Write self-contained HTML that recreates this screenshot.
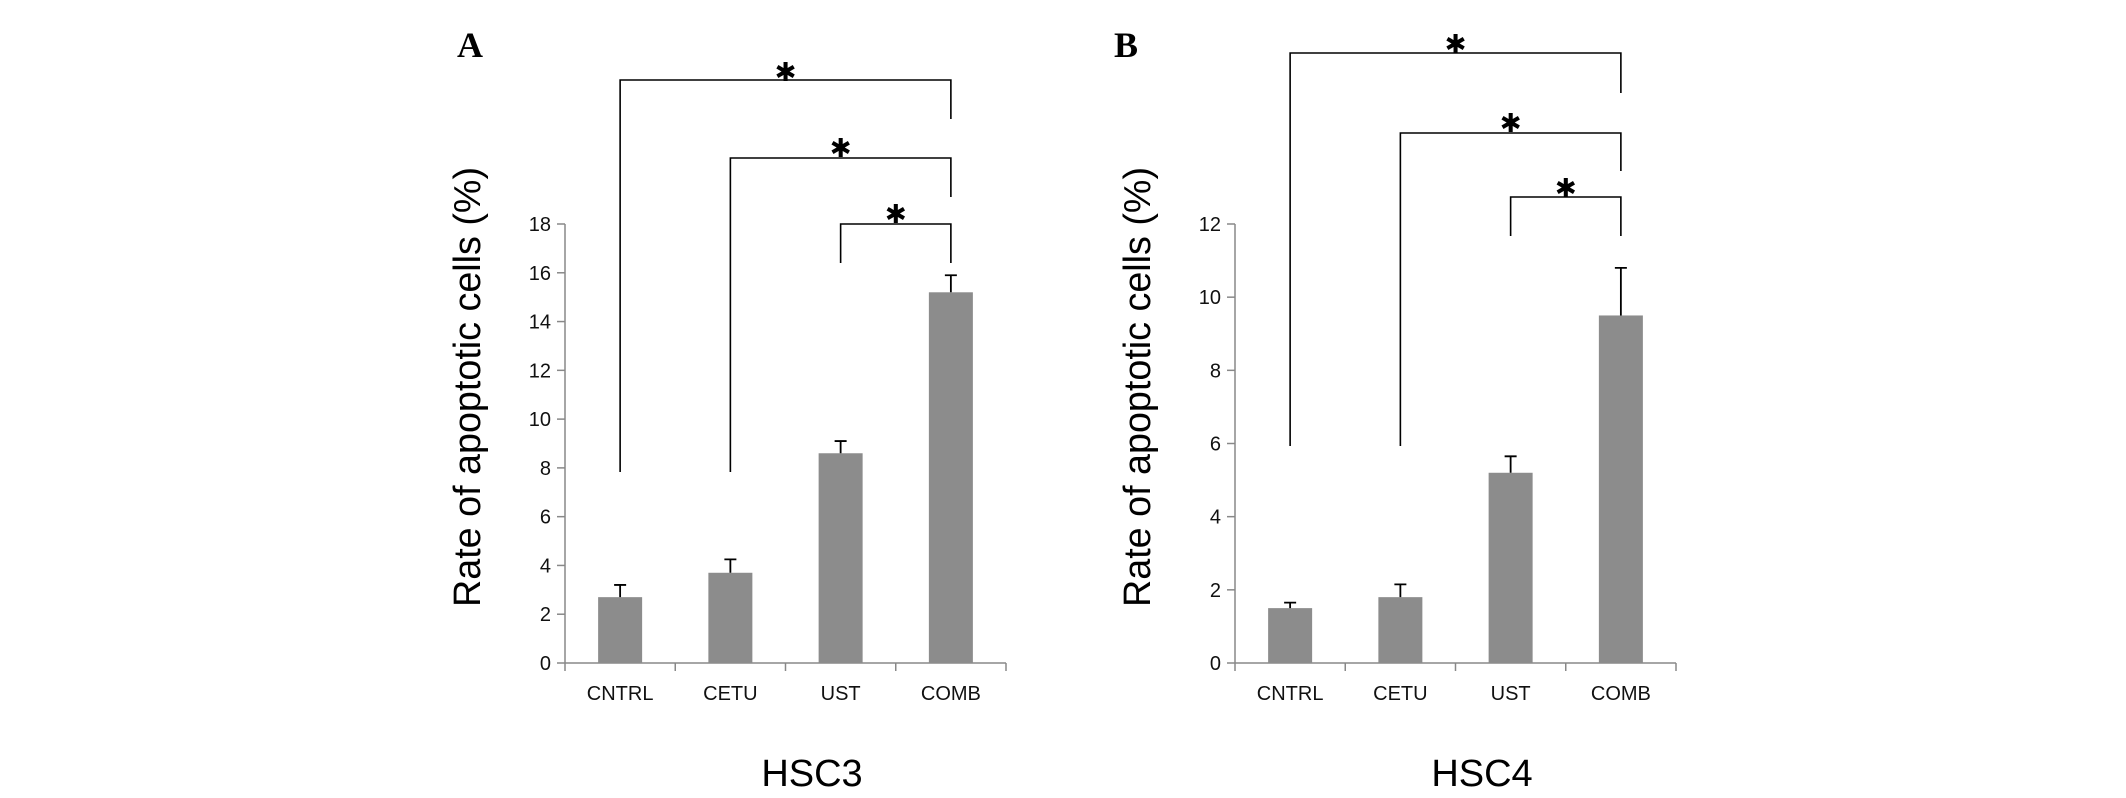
<!DOCTYPE html>
<html><head><meta charset="utf-8"><style>
html,body{margin:0;padding:0;background:#fff;}
svg{display:block;font-family:"Liberation Sans",sans-serif;}
</style></head><body>
<svg id="fig" width="2126" height="798" viewBox="0 0 2126 798"></svg>
<script>
const categories = ["CNTRL","CETU","UST","COMB"];
const hsc3Values = [2.7, 3.7, 8.6, 15.2];
const hsc3Errors = [0.5, 0.55, 0.5, 0.7];
const hsc3Ticks = [0,2,4,6,8,10,12,14,16,18];
const hsc4Values = [1.5, 1.8, 5.2, 9.5];
const hsc4Errors = [0.15, 0.35, 0.45, 1.3];
const hsc4Ticks = [0,2,4,6,8,10,12];

const NS="http://www.w3.org/2000/svg";
const svg=document.getElementById('fig');
function mk(tag,attrs,parent){const e=document.createElementNS(NS,tag);for(const k in attrs)e.setAttribute(k,attrs[k]);(parent||svg).appendChild(e);return e;}

function panel(ox, letter, title, values, errors, ticks, br){
  const g=mk('g',{transform:`translate(${ox},0)`});
  
  
  const x0=565,x1=1006,y0=663,yTop=224,ymax=ticks[ticks.length-1];
  const yS=v=>y0-(v/ymax)*(y0-yTop);
  const bw=(x1-x0)/categories.length;
  const xC=i=>x0+bw*(i+0.5);
  const yAxis=mk('line',{x1:x0,y1:yTop,x2:x0,y2:y0,stroke:'#888','stroke-width':1.5},g);
  
  
  const xAxis=mk('line',{x1:x0,y1:y0,x2:x1,y2:y0,stroke:'#888','stroke-width':1.5},g);
  
  
  ticks.forEach(t=>{
    mk('line',{x1:x0-8,y1:yS(t),x2:x0,y2:yS(t),stroke:'#888','stroke-width':1.5},g);
    const tx=mk('text',{x:x0-14,y:yS(t)+7,'text-anchor':'end','font-size':20,fill:'#111'},g);
    tx.textContent=t;
    
    
  });
  for(let i=0;i<=categories.length;i++) mk('line',{x1:x0+bw*i,y1:y0,x2:x0+bw*i,y2:y0+8,stroke:'#888','stroke-width':1.5},g);
  categories.forEach((c,i)=>{
    const cx=xC(i);
    const b=mk('rect',{x:cx-22,y:yS(values[i]),width:44,height:y0-yS(values[i]),fill:'#8c8c8c'},g);
    
    
    const ye=yS(values[i]+errors[i]);
    const e=mk('path',{d:`M${cx} ${yS(values[i])}V${ye}M${cx-6} ${ye}H${cx+6}`,stroke:'#000','stroke-width':1.8,fill:'none'},g);
    
    
    const t=mk('text',{x:cx,y:700,'text-anchor':'middle','font-size':20,fill:'#111'},g);
    t.textContent=c;
    
    
  });
  br.forEach(b=>{
    const xl=xC(b[0]),xr=xC(3);
    const p=mk('path',{d:`M${xl} ${b[2]}V${b[1]}H${xr}V${b[3]}`,stroke:'#000','stroke-width':1.6,fill:'none'},g);
    
    
    const s=mk('text',{x:(xl+xr)/2,y:b[4]+10,'text-anchor':'middle','font-size':26,'font-family':'DejaVu Sans, sans-serif',fill:'#000'},g);
    s.textContent='✱';
    
    
  });
  const yl=mk('text',{transform:`translate(480,387) rotate(-90)`,'text-anchor':'middle','font-size':38,fill:'#000',textLength:440,lengthAdjust:'spacingAndGlyphs'},g);
  yl.textContent='Rate of apoptotic cells  (%)';
  
  
  const xt=mk('text',{x:812,y:786,'text-anchor':'middle','font-size':38,fill:'#000'},g);
  xt.textContent=title;
  
  
  const L=mk('text',{x:ox===0?457:444,y:57,'font-size':36,'font-weight':'bold','font-family':'Liberation Serif, serif',fill:'#000'},g);
  L.textContent=letter;
  
  
}
panel(0,'A','HSC3',hsc3Values,hsc3Errors,hsc3Ticks,[[0,80,472,119,71],[1,158,472,197,147],[2,224,263,263,213]]);
panel(670,'B','HSC4',hsc4Values,hsc4Errors,hsc4Ticks,[[0,53,446,93,43],[1,133,446,171,122],[2,197,236,236,187]]);
</script>
</body></html>
